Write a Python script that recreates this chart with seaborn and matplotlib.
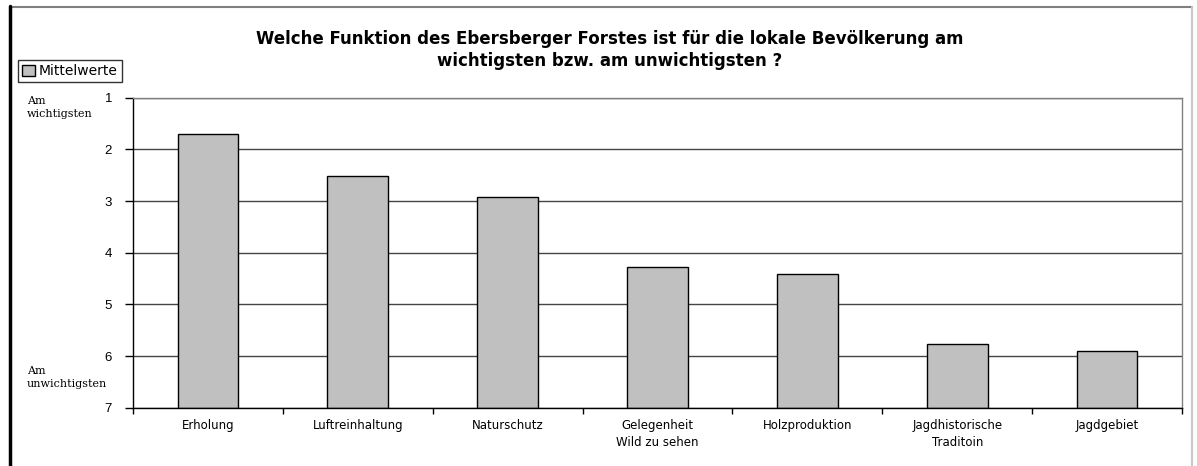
import numpy as np
import matplotlib
matplotlib.use("Agg")
import matplotlib.pyplot as plt
from matplotlib.lines import Line2D
from matplotlib.patches import Patch
import seaborn as sns

# ---- data ----
categories = ["Erholung", "Luftreinhaltung", "Naturschutz", "Gelegenheit\nWild zu sehen",
              "Holzproduktion", "Jagdhistorische\nTraditoin", "Jagdgebiet"]
values = [1.70, 2.52, 2.92, 4.27, 4.41, 5.76, 5.90]
ytick_values = [1, 2, 3, 4, 5, 6, 7]
ytick_labels = ["1", "2", "3", "4", "5", "6", "7"]
series_name = "Mittelwerte"
title_text = ("Welche Funktion des Ebersberger Forstes ist für die lokale Bevölkerung am\n"
              "wichtigsten bzw. am unwichtigsten ?")
top_label = "Am\nwichtigsten"
bottom_label = "Am\nunwichtigsten"

sns.set_style("white")
plt.rcParams["font.family"] = ["DejaVu Sans"]
plt.rcParams["text.color"] = "black"
plt.rcParams["xtick.color"] = "black"
plt.rcParams["ytick.color"] = "black"
plt.rcParams["axes.labelcolor"] = "black"

W, H = 1197, 466
fig = plt.figure(figsize=(W / 100, H / 100), dpi=100)
fig.patch.set_facecolor("white")

left, right = 133 / W, 1182 / W
bottom, top = 1 - 407.7 / H, 1 - 97.7 / H
ax = fig.add_axes([left, bottom, right - left, top - bottom])

base = 7
heights = np.array(values) - base
sns.barplot(x=categories, y=heights, bottom=base, color="#C0C0C0", saturation=1,
            edgecolor="black", linewidth=1.0, width=0.405, ax=ax, errorbar=None)

ax.set_xlim(-0.5, len(categories) - 0.5)
ax.set_ylim(7, 1)
ax.set_yticks(ytick_values)
ax.set_yticklabels(ytick_labels, fontsize=9.5, family="Liberation Sans")
ax.set_xticks(range(len(categories)))
ax.set_xticklabels(categories, fontsize=8.5, linespacing=1.45)
ax.set_xticks(np.arange(-0.5, len(categories), 1), minor=True)
ax.tick_params(axis="x", which="both", bottom=True)
ax.tick_params(axis="y", which="both", left=True)
ax.tick_params(axis="x", which="major", length=0, pad=8)
ax.tick_params(axis="x", which="minor", length=4, width=1, direction="out", color="black")
ax.tick_params(axis="y", which="major", length=6, width=1, direction="out", color="black", pad=9)
ax.set_xlabel("")
ax.set_ylabel("")

ax.yaxis.grid(True, color="#454545", linewidth=1)
ax.xaxis.grid(False)
ax.set_axisbelow(True)

for s in ["left", "bottom"]:
    ax.spines[s].set_color("black")
    ax.spines[s].set_linewidth(1)
for s in ["top", "right"]:
    ax.spines[s].set_color("#808080")
    ax.spines[s].set_linewidth(1)
    ax.spines[s].set_visible(True)

# title
fig.text(0.509, 1 - 30 / H, title_text, ha="center", va="top", fontsize=12,
         fontweight="bold", linespacing=1.3, color="black")

# legend
handle = Patch(facecolor="#C0C0C0", edgecolor="black", linewidth=1)
leg = fig.legend([handle], [series_name], loc="upper left",
                 bbox_to_anchor=(18 / W, 1 - 60 / H), fontsize=10,
                 frameon=True, fancybox=False, edgecolor="black",
                 handlelength=0.9, handleheight=0.9, handletextpad=0.3,
                 borderpad=0.3, borderaxespad=0)
leg.get_frame().set_linewidth(1)
for t in leg.get_texts():
    t.set_color("black")

# side labels
fig.text(27 / W, 1 - 96 / H, top_label, ha="left", va="top", fontsize=8,
         family="DejaVu Serif", linespacing=1.35, color="black")
fig.text(27 / W, 1 - 366 / H, bottom_label, ha="left", va="top", fontsize=8,
         family="DejaVu Serif", linespacing=1.35, color="black")

# figure frame
fig.add_artist(Line2D([10 / W, 1192 / W], [1 - 7 / H, 1 - 7 / H], transform=fig.transFigure,
                      color="#808080", lw=1.5))
fig.add_artist(Line2D([1192 / W, 1192 / W], [1 - 7 / H, 0], transform=fig.transFigure,
                      color="#C8C8C8", lw=1.5))
fig.add_artist(Line2D([10 / W, 10 / W], [1 - 6 / H, 0], transform=fig.transFigure,
                      color="black", lw=2.5))

fig.savefig("out.png", dpi=100, facecolor="white")
